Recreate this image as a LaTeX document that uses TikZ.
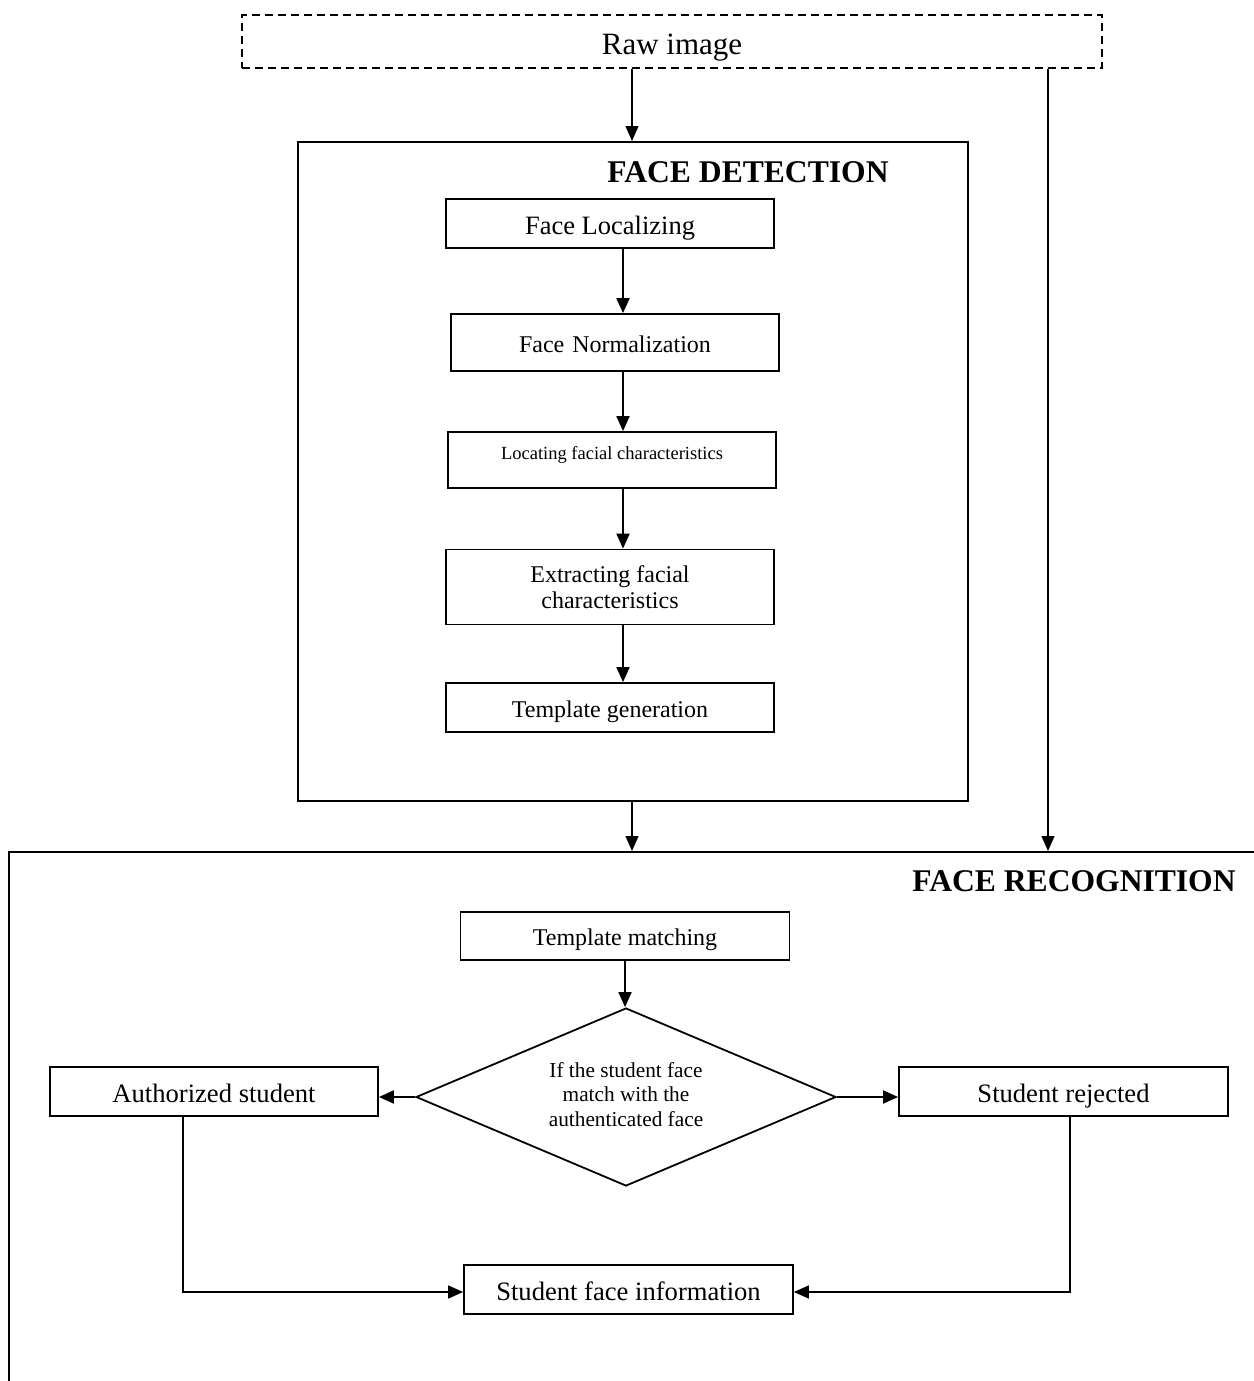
\documentclass[tikz,border=0pt]{standalone}
\usepackage{fontspec}
\setmainfont{Liberation Serif}
\usetikzlibrary{arrows.meta,shapes.geometric}
\newcommand{\fsz}[2]{\fontsize{#1pt}{#2pt}\selectfont}
\tikzset{
  box/.style={draw, line width=1.8pt, minimum width=328pt, minimum height=49pt, inner sep=0pt, align=center, text height=21pt, text depth=0pt},
  smalltext/.style={text height=19pt, text depth=0pt},
  frame/.style={draw, line width=1.8pt, inner sep=0pt},
  tip/.style={-{Triangle[length=15pt,width=13pt]}},
  arr/.style={line width=1.9pt, tip},
  thinarr/.style={line width=1.5pt, tip},
  conn/.style={line width=1.6pt, tip},
  head/.style={font=\fsz{31.6}{36}\bfseries, inner sep=0pt},
}
\begin{document}
\begin{tikzpicture}[x=1pt,y=-1pt]
\useasboundingbox (0,0) rectangle (1253,1381);

% Raw image
\node[draw, line width=2pt, dash pattern=on 8pt off 5pt, minimum width=860pt, minimum height=53pt, inner sep=0pt, text height=27pt, text depth=0pt, font=\fsz{31}{36}] (raw) at (672,41.5) {Raw image};

% Face detection frame
\node[frame, minimum width=670pt, minimum height=659pt, anchor=north west] (fdet) at (297,141) {};
\node[head] (fdtitle) at (748,172) {FACE DETECTION};

\node[box, font=\fsz{26.5}{30}] (loc) at (610,223.5) {Face Localizing};
\node[box, smalltext, minimum height=57pt, font=\fsz{24}{27}] (norm) at (615,342.5) {Face\hspace{2pt} Normalization};
\node[box, minimum height=56pt, font=\fsz{18.5}{21}, text height=13pt, text depth=14pt] (locf) at (612,460) {Locating facial characteristics};
\node[box, minimum height=75pt, font=\fsz{24}{26}, text height=, text depth=] (ext) at (610,587) {Extracting facial\\characteristics};
\node[box, smalltext, font=\fsz{24}{27}] (tgen) at (610,707.5) {Template generation};

% Face recognition frame (open beyond the page)
\node[frame, minimum width=1300pt, minimum height=600pt, anchor=north west] (frec) at (8,851) {};
\node[head] (frtitle) at (1074,881) {FACE RECOGNITION};

\node[box, smalltext, minimum width=329pt, minimum height=48pt, font=\fsz{24}{27}] (tmatch) at (625,936) {Template matching};
\node[diamond, draw, line width=1.8pt, aspect=2.36, minimum width=420pt, minimum height=178pt, inner sep=0pt, align=center, font=\fsz{21.3}{24.5}] (dia) at (626,1097) {If the student face\\match with the\\authenticated face\\[-18.5pt]\mbox{}};
\node[box, font=\fsz{26.6}{30}] (auth) at (214,1091.5) {Authorized student};
\node[box, minimum width=329pt, font=\fsz{26.6}{30}] (rej) at (1063.5,1091.5) {Student rejected};
\node[box, minimum width=329pt, font=\fsz{26.6}{30}] (sfi) at (628.5,1289.5) {Student face information};

% helper coordinates
\coordinate (xa) at (632,0);
\coordinate (xb) at (1048,0);
\coordinate (xc) at (623,0);
\coordinate (xl) at (183,0);
\coordinate (xr) at (1070,0);
\coordinate (yl) at (0,1292);

% outer connectors
\draw[thinarr] (raw.south -| xa) -- (fdet.north -| xa);
\draw[thinarr] (raw.south -| xb) -- (frec.north -| xb);
\draw[thinarr] (fdet.south -| xa) -- (frec.north -| xa);

% detection chain
\draw[arr] (loc.south -| xc) -- (norm.north -| xc);
\draw[arr] (norm.south -| xc) -- (locf.north -| xc);
\draw[arr] (locf.south -| xc) -- (ext.north -| xc);
\draw[arr] (ext.south -| xc) -- (tgen.north -| xc);

% recognition
\draw[arr] (tmatch.south) -- (tmatch.south |- dia.north);
\draw[arr] (dia.west) -- (dia.west -| auth.east);
\draw[arr] (dia.east) -- (dia.east -| rej.west);
\draw[conn] (auth.south -| xl) -- (xl |- yl) -- (yl -| sfi.west);
\draw[conn] (rej.south -| xr) -- (xr |- yl) -- (yl -| sfi.east);
\end{tikzpicture}
\end{document}
